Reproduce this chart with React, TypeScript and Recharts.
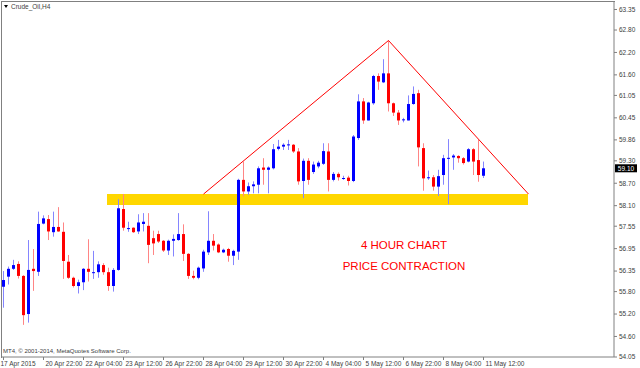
import React from 'react';
import { ComposedChart, Bar, XAxis, YAxis, ReferenceArea, ReferenceLine } from 'recharts';

// H4 candles, one row per bar
const opens = [
  55.93, 56.2, 56.41, 56.54, 56.22, 55.2, 56.41, 56.33, 57.62, 57.74,
  57.39, 57.53, 57.4, 56.6, 56.17, 55.95, 56.05, 56.41, 56.3, 56.32,
  56.51, 56.32, 55.95, 56.38, 58.01, 57.48, 57.51, 57.41, 57.61, 57.56,
  57.23, 57.34, 57.16, 56.9, 57.16, 57.18, 57.34, 56.81, 56.22, 56.17,
  56.42, 56.85, 57.16, 57.06, 56.85, 56.94, 56.76, 56.87, 58.79, 58.48,
  58.62, 58.66, 59.12, 59.06, 59.1, 59.62, 59.68, 59.72, 59.73, 59.55,
  58.76, 59.3, 59.0, 59.15, 59.22, 59.55, 58.79, 58.95, 58.82, 58.85,
  58.76, 59.91, 60.89, 60.38, 60.84, 61.57, 61.4, 61.64, 60.84, 60.59,
  60.39, 60.38, 60.82, 61.11, 59.64, 58.84, 58.86, 58.61, 58.92, 59.36,
  59.39, 59.43, 59.37, 59.28, 59.61, 59.32, 58.9,
];
const highs = [
  56.35, 56.47, 56.65, 56.61, 56.24, 57.18, 56.94, 57.94, 57.84, 57.85,
  57.94, 58.06, 57.65, 56.78, 56.2, 56.12, 56.43, 57.2, 56.89, 56.61,
  56.56, 56.44, 56.43, 58.27, 58.41, 57.67, 57.52, 57.87, 57.9, 57.9,
  57.43, 57.43, 57.18, 57.19, 57.33, 57.9, 57.6, 56.83, 56.36, 56.47,
  56.92, 57.95, 57.34, 57.09, 56.95, 56.97, 56.92, 58.82, 59.28, 58.72,
  58.75, 59.15, 59.37, 59.15, 59.75, 59.86, 59.77, 59.86, 59.75, 59.64,
  59.36, 59.37, 59.28, 59.3, 59.77, 59.77, 59.0, 58.99, 58.9, 58.9,
  59.99, 61.08, 60.98, 60.88, 61.6, 61.64, 62.02, 62.52, 60.86, 60.66,
  60.45, 61.05, 61.29, 61.2, 59.77, 59.04, 58.92, 59.06, 59.46, 59.88,
  59.48, 59.45, 59.4, 59.64, 59.64, 59.86, 59.28,
];
const lows = [
  55.37, 55.99, 56.38, 56.15, 54.91, 54.97, 55.82, 56.22, 57.6, 57.18,
  57.27, 57.4, 56.14, 56.14, 55.91, 55.75, 55.84, 56.07, 56.14, 56.17,
  56.25, 55.82, 55.8, 56.36, 57.43, 57.4, 57.37, 57.34, 57.41, 56.56,
  56.78, 57.1, 56.86, 56.78, 56.74, 57.16, 56.62, 56.14, 56.13, 56.13,
  56.33, 56.78, 56.9, 56.83, 56.83, 56.6, 56.51, 56.65, 58.35, 58.39,
  58.43, 58.43, 58.66, 58.43, 59.07, 59.58, 59.59, 59.59, 59.51, 58.66,
  58.3, 58.66, 58.95, 59.1, 59.19, 58.48, 58.75, 58.77, 58.79, 58.64,
  58.73, 59.86, 60.29, 60.38, 60.8, 61.2, 61.38, 60.62, 60.5, 60.26,
  60.33, 60.38, 60.8, 59.15, 58.5, 58.79, 58.5, 58.36, 58.66, 58.14,
  59.06, 59.25, 59.2, 59.26, 58.92, 58.74, 58.84,
];
const closes = [
  56.11, 56.41, 56.51, 56.22, 55.17, 56.38, 56.35, 57.61, 57.76, 57.41,
  57.53, 57.41, 56.62, 56.17, 55.95, 56.05, 56.41, 56.33, 56.32, 56.53,
  56.32, 55.95, 56.38, 58.03, 57.51, 57.5, 57.39, 57.65, 57.67, 57.05,
  57.09, 57.14, 56.9, 57.16, 57.21, 57.34, 56.81, 56.22, 56.17, 56.44,
  56.87, 57.16, 57.03, 56.85, 56.92, 56.76, 56.89, 58.79, 58.48, 58.62,
  58.67, 59.1, 59.06, 59.12, 59.61, 59.68, 59.73, 59.74, 59.55, 58.75,
  59.3, 58.79, 59.2, 59.25, 59.56, 58.79, 58.95, 58.86, 58.84, 58.76,
  59.95, 60.89, 60.38, 60.86, 61.57, 61.42, 61.64, 60.84, 60.59, 60.38,
  60.41, 60.82, 61.09, 59.66, 58.83, 58.86, 58.61, 58.89, 59.37, 59.38,
  59.44, 59.37, 59.24, 59.61, 59.28, 58.92, 59.1,
];

const timeLabels = [
  '17 Apr 2015', '20 Apr 22:00', '22 Apr 04:00', '23 Apr 12:00', '26 Apr 22:00',
  '28 Apr 04:00', '29 Apr 12:00', '30 Apr 22:00', '4 May 04:00', '5 May 12:00',
  '6 May 22:00', '8 May 04:00', '11 May 12:00',
];
const timeTickIdx = timeLabels.map((_, k) => k * 8);

const priceTicks = [
  63.35, 62.8, 62.2, 61.6, 61.05, 60.45, 59.86, 59.3, 58.7, 58.1,
  57.55, 56.95, 56.35, 55.8, 55.2, 54.6, 54.05,
];

// drawn annotations (bar index / price)
const bandIdx = [20.7, 104.9];
const bandPx = [58.12, 58.41];
const triIdx = [40, 77, 105];
const triPx = [58.41, 62.52, 58.41];

const candles = opens.map((o, i) => ({
  i,
  open: o,
  high: highs[i],
  low: lows[i],
  close: closes[i],
  range: [lows[i], highs[i]],
}));

const FONT = '"Liberation Sans", Arial, sans-serif';
const GRAY = '#808080';

const Candle = (props: any) => {
  const { x, y, width, height, payload } = props;
  if (!payload || height == null) return null;
  const { open, close, high, low } = payload;
  const up = close >= open;
  const k = high - low > 0 ? height / (high - low) : 0;
  const yo = y + (high - open) * k;
  const yc = y + (high - close) * k;
  const top = Math.min(yo, yc);
  const h = Math.max(1, Math.abs(yo - yc));
  const cx = x + width / 2;
  return (
    <g>
      <line x1={cx} x2={cx} y1={y} y2={y + height} stroke={up ? '#8585ff' : '#ff8585'} strokeWidth={1} />
      <rect x={x} y={top} width={width} height={h} fill={up ? '#0000ff' : '#ff0000'} />
    </g>
  );
};

const TimeTick = (props: any) => {
  const { x, payload } = props;
  const v = payload.value;
  const label = timeLabels[Math.round(v / 8)];
  return (
    <text x={v === 0 ? x - 3 : x + 2} y={366} fontSize={6.5} fill="#404040" fontFamily={FONT} textAnchor="start">
      {label}
    </text>
  );
};

const PriceTag = (props: any) => {
  const vb = props.viewBox || {};
  const px = vb.x + vb.width + 1;
  const py = vb.y;
  return (
    <g>
      <rect x={px} y={py - 4} width={22} height={8} fill="#000" />
      <text x={px + 11} y={py + 2.5} fontSize={6.5} fill="#fff" textAnchor="middle" fontFamily={FONT}>
        {closes[closes.length - 1].toFixed(2)}
      </text>
    </g>
  );
};

export default function App() {
  return (
    <div style={{ position: 'absolute', left: 0, top: 0, width: 640, height: 368, background: '#fff', fontFamily: FONT }}>
      <div style={{ position: 'absolute', left: 1, top: 1, width: 613, height: 356, borderLeft: `1px solid ${GRAY}`, borderTop: `1px solid ${GRAY}` }} />
      <ComposedChart width={640} height={368} data={candles} margin={{ top: 2, right: 0, bottom: 0, left: 2 }}>
        <XAxis
          type="number"
          dataKey="i"
          domain={[-0.3, 122.1]}
          ticks={timeTickIdx}
          interval={0}
          allowDataOverflow
          height={11}
          tickSize={3}
          axisLine={{ stroke: GRAY }}
          tickLine={{ stroke: GRAY }}
          tick={<TimeTick />}
        />
        <YAxis
          orientation="right"
          type="number"
          domain={[54.05, 63.55]}
          ticks={priceTicks}
          interval={0}
          allowDataOverflow
          width={26}
          tickSize={3}
          tickMargin={2}
          axisLine={{ stroke: GRAY }}
          tickLine={{ stroke: GRAY }}
          tickFormatter={(v: number) => v.toFixed(2)}
          tick={{ fontSize: 6.5, fill: '#404040', fontFamily: FONT }}
        />
        <ReferenceArea x1={bandIdx[0]} x2={bandIdx[1]} y1={bandPx[0]} y2={bandPx[1]} fill="#ffd700" fillOpacity={1} stroke="none" />
        <ReferenceLine segment={[{ x: triIdx[0], y: triPx[0] }, { x: triIdx[1], y: triPx[1] }]} stroke="#ff0000" strokeWidth={1} />
        <ReferenceLine segment={[{ x: triIdx[1], y: triPx[1] }, { x: triIdx[2], y: triPx[2] }]} stroke="#ff0000" strokeWidth={1} />
        <Bar dataKey="range" barSize={3} shape={<Candle />} isAnimationActive={false} />
        <ReferenceLine y={closes[closes.length - 1]} stroke="none" label={<PriceTag />} />
      </ComposedChart>
      <div style={{ position: 'absolute', left: 4, top: 5, width: 0, height: 0, borderLeft: '2.5px solid transparent', borderRight: '2.5px solid transparent', borderTop: '3px solid #000' }} />
      <div style={{ position: 'absolute', left: 11, top: 3, fontSize: 6.5, lineHeight: '8px', color: '#404040', whiteSpace: 'nowrap' }}>Crude_Oil,H4</div>
      <div style={{ position: 'absolute', left: 3, top: 347, fontSize: 6, lineHeight: '8px', color: '#404040', whiteSpace: 'nowrap' }}>
        MT4, © 2001-2014, MetaQuotes Software Corp.
      </div>
      <div style={{ position: 'absolute', left: 404, top: 240, transform: 'translateX(-50%)', fontSize: 11.5, lineHeight: '11.5px', color: '#ff0000', whiteSpace: 'nowrap' }}>
        4 HOUR CHART
      </div>
      <div style={{ position: 'absolute', left: 404, top: 261, transform: 'translateX(-50%)', fontSize: 11.5, lineHeight: '11.5px', color: '#ff0000', whiteSpace: 'nowrap' }}>
        PRICE CONTRACTION
      </div>
    </div>
  );
}
